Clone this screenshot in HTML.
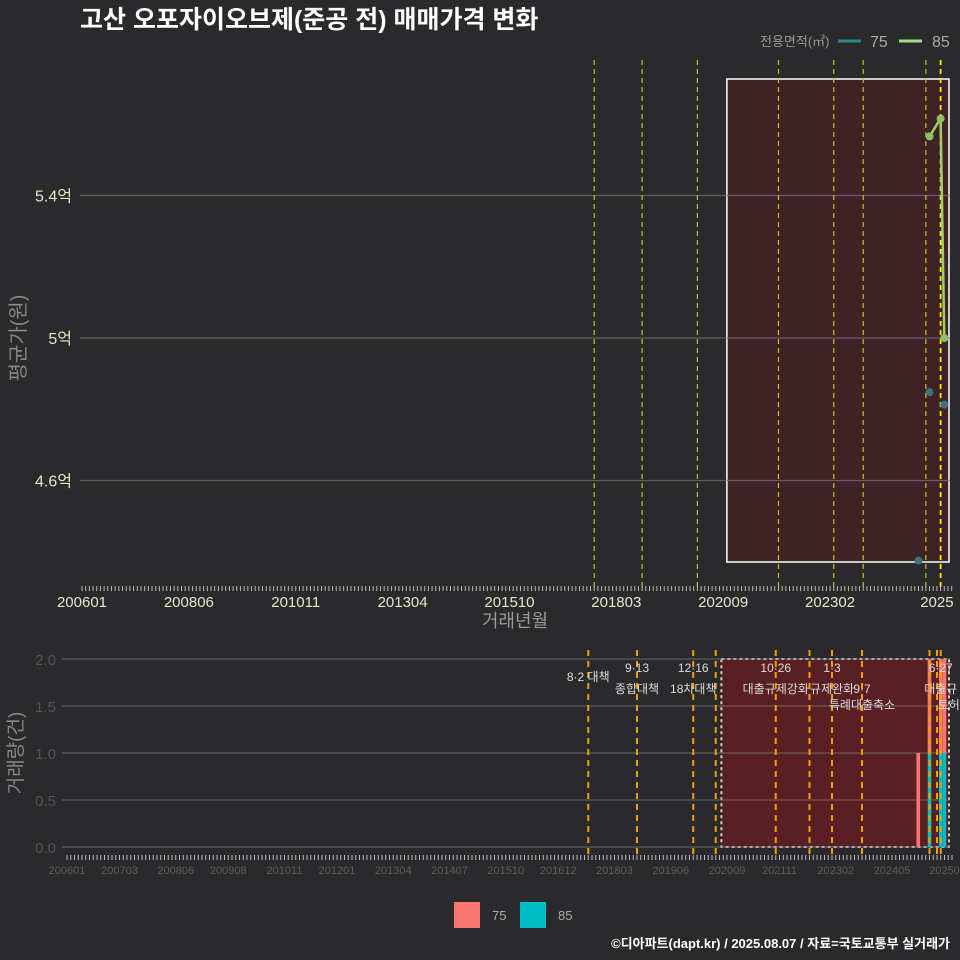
<!DOCTYPE html>
<html><head><meta charset="utf-8"><style>
body{margin:0;background:#2a2a2c;}
svg{display:block;font-family:"Liberation Sans","Noto Sans CJK KR",sans-serif;}
</style></head><body>
<svg id="c" width="960" height="960" viewBox="0 0 960 960">
<rect width="960" height="960" fill="#2a2a2c"/>
<text x="80" y="28" fill="#fff" font-size="25" font-weight="bold" font-family="Liberation Sans, Noto Sans CJK KR, sans-serif">고산 오포자이오브제(준공 전) 매매가격 변화</text>
<g>
<text x="760" y="46" fill="#999" font-size="13">전용면적(㎡)</text>
<line x1="838" y1="41" x2="861" y2="41" stroke="#2b8a8c" stroke-width="3"/>
<text x="870" y="47" fill="#aaa" font-size="16">75</text>
<line x1="899" y1="41" x2="922" y2="41" stroke="#9fe08a" stroke-width="3"/>
<text x="932" y="47" fill="#aaa" font-size="16">85</text>
</g>
<g id="top"></g>
<g id="bot"></g>
<g>
<rect x="454" y="902" width="26" height="26" fill="#f8766d"/>
<text x="492" y="920" fill="#aaa" font-size="13">75</text>
<rect x="520" y="902" width="26" height="26" fill="#00bfc4"/>
<text x="558" y="920" fill="#aaa" font-size="13">85</text>
</g>
<text x="950" y="948" text-anchor="end" fill="#fff" font-size="13" font-weight="bold">©디아파트(dapt.kr) / 2025.08.07 / 자료=국토교통부 실거래가</text>
</svg>
<script>
// data (month index = months since 2006-01)
const topTickLabels=["200601","200806","201011","201304","201510","201803","202009","202302","2025"];
const topTickMonths=[0,29,58,87,116,145,174,203,232];
const yTickValues=[4.6,5.0,5.4];
const yTickLabels=["4.6억","5억","5.4억"];
const s75Months=[227,230,234];
const s75Prices=[4.375,4.848,4.813];
const s85Months=[230,233,234];
const s85Prices=[5.566,5.616,5.0];
const topEventMonths=[139,152,167,189,204,212,229,233];
const botTickLabels=["200601","200703","200806","200908","201011","201201","201304","201407","201510","201612","201803","201906","202009","202111","202302","202405","20250"];
const botTickMonths=[0,14,29,43,58,72,87,102,117,131,146,161,176,190,205,220,234];
const volYTicks=[0,0.5,1.0,1.5,2.0];
const volMonths=[227,230,233,234];
const vol75=[1,1,1,1];
const vol85=[0,1,1,1];
const botEventMonths=[139,152,167,173,189,198,204,212,230,232,233];
const eventTexts=[["8·2 대책",139,677],["9·13",152,668],["종합대책",152,689],["12·16",167,668],["18차대책",167,689],["10·26",189,668],["대출규제강화",189,689],["1·3",204,668],["규제완화",204,689],["9·7",212,689],["특례대출축소",212,705],["토허제 해제",240,705],["6·27",233,668],["대출규",233,689]];

const NS="http://www.w3.org/2000/svg";
function mk(p,t,a){const e=document.createElementNS(NS,t);for(const k in a)e.setAttribute(k,a[k]);p.appendChild(e);return e;}
const xT=m=>82+m*3.685, yT=v=>338-(v-5.0)*356.25;
const xB=m=>67+m*3.75, yB=v=>847-v*94;
const T=document.getElementById('top'), B=document.getElementById('bot');

// top panel
let r=mk(T,'rect',{x:xT(175),y:79,width:949-xT(175),height:483,fill:'#3f2226',stroke:'#fff','stroke-width':1.5});

yTickValues.forEach((v,i)=>{
 const l=mk(T,'line',{x1:80,x2:950,y1:yT(v),y2:yT(v),stroke:'#777','stroke-opacity':0.7,'stroke-width':1.2});
 
 const t=mk(T,'text',{x:72,y:yT(v)+6,'text-anchor':'end',fill:'#e8e6c8','font-size':16});t.textContent=yTickLabels[i];
 
});
topEventMonths.forEach((m,i)=>{
 const l=mk(T,'line',{x1:xT(m),x2:xT(m),y1:60,y2:590,stroke:i==7?'#ffee00':'#c8c020','stroke-dasharray':'5,4','stroke-width':i==7?1.8:1.2});
 
});
for(let m=0;m<=236;m++){mk(T,'line',{x1:xT(m),x2:xT(m),y1:586,y2:591,stroke:'#bbb','stroke-width':1});}
topTickLabels.forEach((s,i)=>{const t=mk(T,'text',{x:xT(topTickMonths[i]),y:607,'text-anchor':'middle',fill:'#e8e6c8','font-size':15});t.textContent=s;
 });
let t=mk(T,'text',{x:515,y:627,'text-anchor':'middle',fill:'#999','font-size':18});t.textContent='거래년월';

t=mk(T,'text',{x:0,y:0,transform:'translate(25,338) rotate(-90)','text-anchor':'middle',fill:'#888','font-size':20});t.textContent='평균가(원)';

let p=mk(T,'polyline',{points:s85Months.map((m,i)=>xT(m)+','+yT(s85Prices[i])).join(' '),fill:'none',stroke:'#9ccf6a','stroke-width':2.5});

s85Months.forEach((m,i)=>{const c=mk(T,'circle',{cx:xT(m),cy:yT(s85Prices[i]),r:4,fill:'#8fc062'});});
s75Months.forEach((m,i)=>{const c=mk(T,'circle',{cx:xT(m),cy:yT(s75Prices[i]),r:4,fill:'#3a7378'});});

// bottom panel
r=mk(B,'rect',{x:xB(174.5),y:yB(2),width:949-xB(174.5),height:yB(0)-yB(2),fill:'#5a1f22',stroke:'#ccc','stroke-width':2,'stroke-dasharray':'3,3'});

volYTicks.forEach(v=>{
 const l=mk(B,'line',{x1:62,x2:950,y1:yB(v),y2:yB(v),stroke:'#777','stroke-opacity':0.8,'stroke-width':1});
 
 const t=mk(B,'text',{x:56,y:yB(v)+6,'text-anchor':'end',fill:'#555','font-size':15});t.textContent=v.toFixed(1);
 
});
volMonths.forEach((m,i)=>{
 const x=xB(m)-1.8;
 if(vol85[i]>0){const b=mk(B,'rect',{x:x,y:yB(vol85[i]),width:3.6,height:yB(0)-yB(vol85[i]),fill:'#00bfc4'});}
 const b=mk(B,'rect',{x:x,y:yB(vol85[i]+vol75[i]),width:3.6,height:yB(0)-yB(vol75[i]),fill:'#f8766d'});
});
botEventMonths.forEach(m=>{
 const l=mk(B,'line',{x1:xB(m),x2:xB(m),y1:650,y2:858,stroke:'#f0a000','stroke-dasharray':'6,5','stroke-width':2});
 
});
eventTexts.forEach(e=>{const t=mk(B,'text',{x:xB(e[1]),y:e[2]+4,'text-anchor':'middle',fill:'#ddd','font-size':12});t.textContent=e[0];
 });
for(let m=0;m<=236;m++){mk(B,'line',{x1:xB(m),x2:xB(m),y1:855,y2:860,stroke:'#bbb','stroke-width':1});}
botTickLabels.forEach((s,i)=>{const t=mk(B,'text',{x:xB(botTickMonths[i]),y:874,'text-anchor':'middle',fill:'#5e5e5e','font-size':11});t.textContent=s;
 });
t=mk(B,'text',{x:0,y:0,transform:'translate(22,753) rotate(-90)','text-anchor':'middle',fill:'#888','font-size':19});t.textContent='거래량(건)';

</script>
</body></html>
